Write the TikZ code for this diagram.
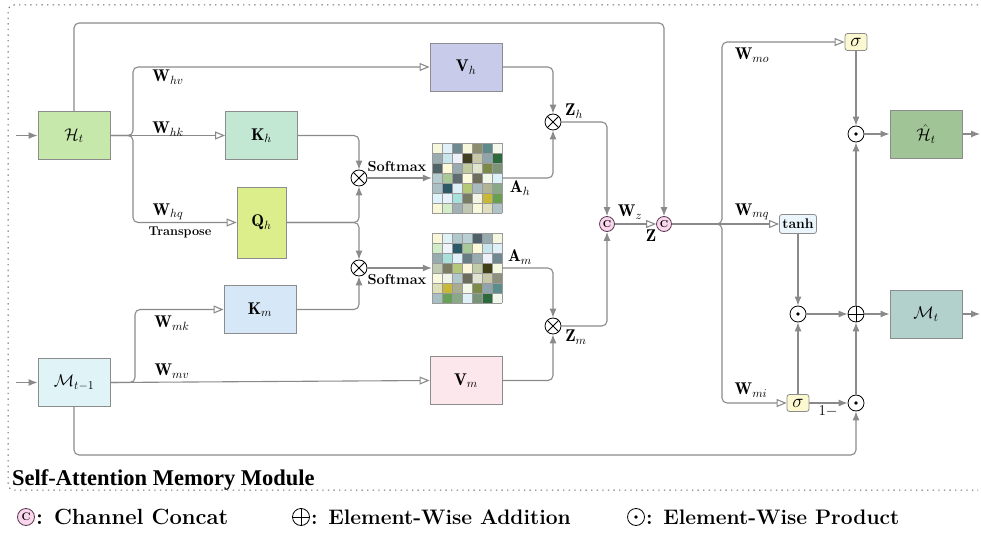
\RequirePackage{fix-cm}
\documentclass[tikz,border=0pt]{standalone}
\usepackage{fontspec}
\newfontfamily\titlefont{Liberation Serif}
\usetikzlibrary{arrows.meta}

\definecolor{linegray}{HTML}{8A8A8A}
\definecolor{boxgray}{HTML}{8C8C8C}
\definecolor{gridline}{HTML}{9A9A9A}
\definecolor{framegray}{HTML}{6A6A6A}
\definecolor{cHt}{HTML}{C6E8AA}
\definecolor{cKh}{HTML}{C2E8D4}
\definecolor{cQh}{HTML}{DCEE8C}
\definecolor{cVh}{HTML}{C8CCEA}
\definecolor{cKm}{HTML}{D6E8F8}
\definecolor{cM}{HTML}{E0F4F8}
\definecolor{cVm}{HTML}{FCE8EC}
\definecolor{cHh}{HTML}{A0C496}
\definecolor{cMt}{HTML}{B2D0CC}
\definecolor{cSig}{HTML}{FCF8D0}
\definecolor{cTanh}{HTML}{EAF6FC}
\definecolor{cCat}{HTML}{FAD6EC}
\definecolor{cCatB}{HTML}{5A3A50}

% 7x7 attention map: #1,#2 = top-left corner, #3 = cell colours row by row
\newcommand\attnmap[3]{%
  \foreach \cc [count=\i from 0] in {#3} {
    \pgfmathtruncatemacro\rr{div(\i,7)}
    \pgfmathtruncatemacro\kk{mod(\i,7)}
    \definecolor{cellc}{HTML}{\cc}
    \fill[cellc] (#1+10*\kk,#2+10*\rr) rectangle ++(10,10);
  }
  \foreach \k in {0,...,7} {
    \draw[gridline, line width=0.8pt] (#1+10*\k,#2) -- (#1+10*\k,#2+70);
    \draw[gridline, line width=0.8pt] (#1,#2+10*\k) -- (#1+70,#2+10*\k);
  }
}

\begin{document}
\begin{tikzpicture}[x=1pt,y=-1pt,
  conn/.style={draw=linegray, line width=1.1pt, rounded corners=5pt},
  fa/.style={-{Latex[length=9pt,width=7pt]}},
  oa/.style={-{Triangle[open,length=10pt,width=8pt,fill=white]}},
  box/.style={draw=boxgray, line width=0.9pt, minimum width=72pt, minimum height=48pt,
    inner sep=0pt, font=\fontsize{17}{20}\selectfont},
  lab/.style={inner sep=0pt, font=\fontsize{17}{20}\selectfont},
  smalllab/.style={inner sep=0pt, font=\bfseries\fontsize{14.5}{16}\selectfont},
  opc/.style={circle, draw=black, fill=white, line width=0.8pt, minimum size=16pt, inner sep=0pt},
  otimesc/.style={opc, path picture={\draw[black, line width=0.8pt]
    (path picture bounding box.north west) -- (path picture bounding box.south east)
    (path picture bounding box.north east) -- (path picture bounding box.south west);}},
  oplusc/.style={opc, path picture={\draw[black, line width=0.8pt]
    (path picture bounding box.north) -- (path picture bounding box.south)
    (path picture bounding box.west) -- (path picture bounding box.east);}},
  odotc/.style={opc, path picture={\fill[black] (path picture bounding box.center) circle (1.8pt);}},
  concat/.style={circle, draw=cCatB, fill=cCat, line width=0.8pt, minimum size=15pt,
    inner sep=0pt, font=\bfseries\fontsize{10}{10}\selectfont},
  gate/.style={draw=boxgray, line width=0.8pt, rounded corners=2.5pt, minimum width=22pt,
    minimum height=17pt, inner sep=0pt, font=\fontsize{19}{19}\selectfont},
  legendtext/.style={inner sep=0pt, anchor=base west, font=\bfseries\fontsize{21}{24}\selectfont}
]
\useasboundingbox (0,0) rectangle (981,534);

% dotted frame of the module
\draw[framegray, line width=1pt, dash pattern=on 1.4pt off 4.2pt, rounded corners=6pt]
  (978,5) -- (8,5) -- (8,490) -- (978,490);

% blocks
\node[box, fill=cHt] (Ht) at (74,135.5) {$\mathcal{H}_t$};
\node[box, fill=cKh] (Kh) at (261.5,135.5) {$\mathbf{K}_h$};
\node[box, fill=cQh, minimum width=49pt, minimum height=71pt] (Qh) at (261.5,222.5) {$\mathbf{Q}_h$};
\node[box, fill=cVh] (Vh) at (466,67) {$\mathbf{V}_h$};
\node[box, fill=cKm] (Km) at (260,309.5) {$\mathbf{K}_m$};
\node[box, fill=cM] (M) at (74,382.5) {$\mathcal{M}_{t-1}$};
\node[box, fill=cVm] (Vm) at (466,380.5) {$\mathbf{V}_m$};
\node[box, fill=cHh] (Hh) at (926,134) {$\hat{\mathcal{H}}_t$};
\node[box, fill=cMt] (Mt) at (926,314) {$\mathcal{M}_t$};

% attention maps
\attnmap{432}{143}{F5F8DC,E0F2F8,6E8A90,F6F8DC,8C8C70,5E8A8A,F4F8EC,
9AACB0,C8E6EC,EEF0FA,404020,C8C8A8,90A4AC,2C6A3C,
506468,FEFAD8,98ACB0,C0CCA0,E0E4CC,7C8A48,7C9478,
B4CCD0,A8C898,5E6E70,FEFADC,6E6E5C,F2F8E8,DCF0F8,
AAC0C4,2C5868,E0F0F8,B4C878,A8BCC0,B0B494,88A888,
DFF3FB,E8F2FA,A8E0DC,787C64,F2F4E4,C8B838,68A050,
F8F8D8,D4ECC8,A0B0B4,C0C8B4,F8F8DC,E0E0C0,B0C4C8}
\attnmap{432}{233}{F8F8D8,E0F2F8,B0C8CC,B8D0D4,506068,98ACB0,F4F8E0,
D0ECC8,EEF4FA,2A5A68,A8C898,FDF8D8,C8E4EC,E0F0F8,
98ACB0,A8E0DC,E0F2F8,687C84,98ACB0,EEF0FA,708890,
C0CAB0,7C7C64,B4C878,FDF8DC,C0CCA8,404018,F4F8E0,
FAFAE0,F0F4E8,B0C8CC,6C6C5C,E0E4D0,C8C8A8,8C907C,
E0E0B8,C8B838,A8AC90,F4F8E8,7C8C48,90A4AC,5C8C8C,
A8C0C4,68A058,88A888,E0F0F8,789478,2C6A3C,F0F8EC}
\node[minimum size=70pt, inner sep=0pt] (Ah) at (467,178) {};
\node[minimum size=70pt, inner sep=0pt] (Am) at (467,268) {};

% operators
\node[otimesc] (o1) at (359,178) {};
\node[otimesc] (o2) at (359,268) {};
\node[otimesc] (oZh) at (553,122) {};
\node[otimesc] (oZm) at (553,326) {};
\node[concat] (c1) at (607,224) {C};
\node[concat] (c2) at (664,224) {C};
\node[gate, fill=cSig] (sigT) at (856,42) {$\sigma$};
\node[gate, fill=cTanh, minimum width=37pt, minimum height=19pt,
  font=\bfseries\fontsize{14}{14}\selectfont] (tanh) at (798,224) {tanh};
\node[gate, fill=cSig] (sigB) at (798,403) {$\sigma$};
\node[odotc] (odT) at (856,134) {};
\node[odotc] (odM) at (798,314) {};
\node[oplusc] (opl) at (856,314) {};
\node[odotc] (odB) at (856,403) {};

% inputs and outputs
\coordinate (inH) at (16,135.5);
\coordinate (inM) at (16,382.5);
\coordinate (outH) at (980,134);
\coordinate (outM) at (980,314);
\draw[conn, fa] (inH) -- (Ht);
\draw[conn, fa] (inM) -- (M);
\draw[conn, fa] (Hh) -- (outH);
\draw[conn, fa] (Mt) -- (outM);

% projections of H_t
\draw[draw=linegray, line width=1.6pt] (Ht.east) -- (128,135.5);
\draw[conn, oa] (Ht.east) -- (133,135.5) -- (133,67) -- (Vh.west);
\draw[conn, oa] (Ht.east) -- (Kh.west);
\draw[conn, oa] (Ht.east) -- (133,135.5) -- (133,222.5) -- (Qh.west);
\draw[conn, fa] (Ht.north) -- (74,23) -| (c2.north);

% projections of M_{t-1}
\draw[draw=linegray, line width=1.6pt] (M.east) -- (130,382.5);
\draw[conn, oa] (M.east) -- (135,382.5) -- (135,309.5) -- (Km.west);
\draw[conn, oa] (M.east) -- (Vm.west);
\draw[conn, fa] (M.south) -- (74,455) -| (odB.south);

% attention scores
\draw[conn, fa] (Kh.east) -| (o1.north);
\draw[conn, fa] (Qh.east) -| (o1.south);
\draw[conn, fa] (Qh.east) -| (o2.north);
\draw[conn, fa] (Km.east) -| (o2.south);
\draw[conn, fa] (o1) -- (Ah.west);
\draw[conn, fa] (o2) -- (Am.west);

% weighted values
\draw[conn, fa] (Vh.east) -| (oZh.north);
\draw[conn, fa] (Ah.east) -| (oZh.south);
\draw[conn, fa] (Am.east) -| (oZm.north);
\draw[conn, fa] (Vm.east) -| (oZm.south);
\draw[conn, fa] (oZh.east) -| (c1.north);
\draw[conn, fa] (oZm.east) -| (c1.south);
\draw[conn, oa] (c1) -- (c2);

% gating
\draw[draw=linegray, line width=1.6pt] (c2.east) -- (716,224);
\draw[conn, oa] (c2.east) -- (722,224) -- (722,42) -- (sigT.west);
\draw[conn, oa] (c2.east) -- (tanh.west);
\draw[conn, oa] (c2.east) -- (722,224) -- (722,403) -- (sigB.west);
\draw[conn, fa] (sigT) -- (odT);
\draw[conn, fa] (odT) -- (Hh);
\draw[conn, fa] (tanh) -- (odM);
\draw[conn, fa] (sigB) -- (odM);
\draw[conn, fa] (odM) -- (opl);
\draw[conn, fa] (opl) -- (Mt);
\draw[conn, fa] (opl) -- (odT);
\draw[conn, fa] (sigB) -- (odB);
\draw[conn, fa] (odB) -- (opl);

% labels
\node[lab] at (168,77) {$\mathbf{W}_{hv}$};
\node[lab] at (168,129) {$\mathbf{W}_{hk}$};
\node[lab] at (168,212) {$\mathbf{W}_{hq}$};
\node[inner sep=0pt, font=\bfseries\fontsize{12.7}{14}\selectfont] at (180,232) {Transpose};
\node[lab] at (172,323) {$\mathbf{W}_{mk}$};
\node[lab] at (172,371) {$\mathbf{W}_{mv}$};
\node[smalllab] at (397,167) {Softmax};
\node[smalllab] at (397,280) {Softmax};
\node[lab] at (520,188) {$\mathbf{A}_h$};
\node[lab] at (520,257) {$\mathbf{A}_m$};
\node[lab] at (574,111) {$\mathbf{Z}_h$};
\node[lab] at (576,337) {$\mathbf{Z}_m$};
\node[lab] at (630,212) {$\mathbf{W}_z$};
\node[lab] at (651,236) {$\mathbf{Z}$};
\node[lab] at (752,55) {$\mathbf{W}_{mo}$};
\node[lab] at (752,212) {$\mathbf{W}_{mq}$};
\node[lab] at (751,390) {$\mathbf{W}_{mi}$};
\node[inner sep=0pt, font=\fontsize{15}{16}\selectfont] at (828,411) {$1-$};

% module title
\node[anchor=base west, inner sep=0pt, font=\titlefont\bfseries\fontsize{22.5}{24}\selectfont]
  (title) at (12,485) {Self-Attention Memory Module};

% legend
\node[concat, minimum size=17pt, font=\bfseries\fontsize{11}{11}\selectfont] (lgC) at (26,517) {C};
\node[legendtext, font=\bfseries\fontsize{22}{24}\selectfont] (lgCt) at (36,524) {: Channel Concat};
\node[oplusc, minimum size=17pt] (lgP) at (301,517) {};
\node[legendtext] (lgPt) at (311,524) {: Element-Wise Addition};
\node[odotc, minimum size=17pt] (lgD) at (636,517) {};
\node[legendtext] (lgDt) at (646,524) {: Element-Wise Product};
\end{tikzpicture}
\end{document}
